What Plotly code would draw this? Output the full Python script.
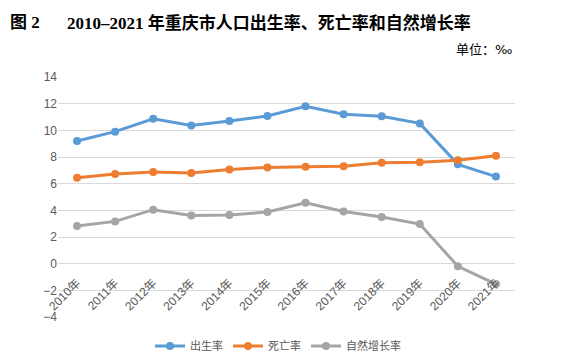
import plotly.graph_objects as go

years = ["2010年", "2011年", "2012年", "2013年", "2014年", "2015年",
         "2016年", "2017年", "2018年", "2019年", "2020年", "2021年"]
birth_rate = [9.2, 9.9, 10.87, 10.37, 10.7, 11.07, 11.8, 11.2, 11.05, 10.52, 7.45, 6.53]
death_rate = [6.45, 6.72, 6.87, 6.8, 7.07, 7.22, 7.27, 7.3, 7.57, 7.6, 7.75, 8.1]
natural_growth = [2.82, 3.17, 4.05, 3.62, 3.65, 3.87, 4.57, 3.92, 3.5, 2.97, -0.2, -1.53]
series_names = ["出生率", "死亡率", "自然增长率"]
colors = ["#5B9BD5", "#ED7D31", "#A5A5A5"]

fig = go.Figure()
for name, vals, c in zip(series_names, [birth_rate, death_rate, natural_growth], colors):
    fig.add_trace(go.Scatter(
        x=years, y=vals, name=name, mode="lines+markers",
        line=dict(color=c, width=3), marker=dict(color=c, size=8),
    ))

# page has an 8px body margin; work in window pixels and shift
OFF = 8
W, H = 566 - OFF, 363 - OFF
Y_MIN, Y_MAX = -4, 14
plot_l, plot_r, plot_t, plot_b = 58 - OFF, 515 - OFF, 77 - OFF, 317 - OFF


def px(x):
    return (x - OFF - plot_l) / (plot_r - plot_l)


def py(y):
    return (plot_b - (y - OFF)) / (plot_b - plot_t)


fig.update_layout(
    width=W, height=H,
    margin=dict(l=plot_l, r=W - plot_r, t=plot_t, b=H - plot_b, autoexpand=False),
    paper_bgcolor="white", plot_bgcolor="white",
    font=dict(family="Liberation Sans, Noto Sans CJK SC", color="#595959", size=12),
    showlegend=True,
    legend=dict(orientation="h", x=px(278), xanchor="center",
                y=py(346), yanchor="middle",
                font=dict(size=11, color="#595959", family="Noto Sans CJK SC"),
                itemwidth=30, tracegroupgap=0),
    xaxis=dict(type="category", range=[-0.5, 11.5], showgrid=False, zeroline=False,
               showline=False, ticks="", tickangle=-45, anchor="free",
               position=(0 - Y_MIN) / (Y_MAX - Y_MIN), ticklabelstandoff=9,
               tickfont=dict(size=12, color="#595959")),
    yaxis=dict(range=[Y_MIN, Y_MAX], dtick=2, showgrid=True, gridcolor="#D9D9D9",
               gridwidth=1, zeroline=False, showline=False, ticks="",
               tickfont=dict(size=12, color="#595959")),
    annotations=[
        dict(text="<b>图 2</b>", x=px(8), y=py(23), xref="paper", yref="paper",
             showarrow=False, xanchor="left", yanchor="middle",
             font=dict(family="Liberation Serif, Noto Sans CJK SC", size=17, color="black")),
        dict(text="<b>2010–2021 年重庆市人口出生率、死亡率和自然增长率</b>",
             x=px(65), y=py(23), xref="paper", yref="paper",
             showarrow=False, xanchor="left", yanchor="middle",
             font=dict(family="Liberation Serif, Noto Sans CJK SC", size=17, color="black")),
        dict(text="单位：<span style='font-family:DejaVu Sans'>‰</span>", x=px(514), y=py(48),
             xref="paper", yref="paper",
             showarrow=False, xanchor="right", yanchor="middle",
             font=dict(family="Noto Sans CJK SC", size=13, color="black")),
    ],
)

fig.write_html("out.html")
